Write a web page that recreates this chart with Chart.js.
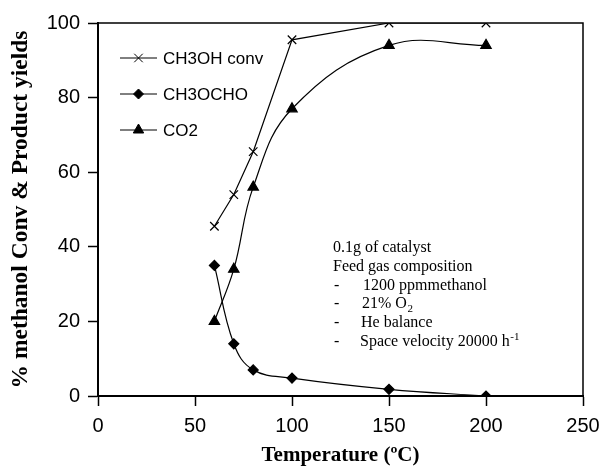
<!DOCTYPE html>
<html>
<head>
<meta charset="utf-8">
<script src="https://cdn.jsdelivr.net/npm/chart.js@4.4.0/dist/chart.umd.min.js"></script>
<style>
  html, body { margin: 0; padding: 0; background: #fff; }
  #wrap { width: 609px; height: 470px; }
</style>
</head>
<body>
<div id="wrap"><canvas id="chart" width="609" height="470"></canvas></div>
<script>
// temperatures (oC)
const TEMPS = [60, 70, 80, 100, 150, 200];
const CONV = [45.5, 54, 65.5, 95.5, 100, 100];
const CH3OCHO = [35, 14, 7, 4.8, 1.8, 0];
const CO2 = [20, 34, 56, 77, 94, 94];

const X_TICKS = [0, 50, 100, 150, 200, 250];
const Y_TICKS = [0, 20, 40, 60, 80, 100];

const NOTE_LINES = [
    ['', '0.1g of catalyst'],
    ['', 'Feed gas composition'],
    ['-', '1200 ppmmethanol'],
    ['-', '21% O', '2'],
    ['-', 'He balance'],
    ['-', 'Space velocity 20000 h', '-1']
];

function pts(ys) {
    return TEMPS.map((t, i) => ({ x: t, y: ys[i] }));
}

const boxAndNotes = {
    id: 'boxAndNotes',
    afterDraw(chart) {
        const ctx = chart.ctx;
        const a = chart.chartArea;
        ctx.save();
        ctx.strokeStyle = '#000';
        ctx.lineWidth = 1.5;
        ctx.beginPath();
        ctx.moveTo(a.left, a.top);
        ctx.lineTo(a.right, a.top);
        ctx.lineTo(a.right, a.bottom);
        ctx.stroke();

        // legend
        const legend = [
            ['CH3OH conv', 'crossRot', 6],
            ['CH3OCHO', 'rectRot', 5],
            ['CO2', 'triangle', 6]
        ];
        ctx.font = '17px "Liberation Sans", Arial, sans-serif';
        ctx.textBaseline = 'middle';
        ctx.fillStyle = '#000';
        legend.forEach((item, i) => {
            const y = 58 + i * 36;
            ctx.lineWidth = 1;
            ctx.beginPath();
            ctx.moveTo(120, y);
            ctx.lineTo(157, y);
            ctx.stroke();
            Chart.helpers.drawPoint(ctx, { pointStyle: item[1], radius: item[2], borderWidth: 1.2 }, 138.5, y);
            ctx.fillText(item[0], 163, y + 1);
        });

        // conditions note
        const serif = '"Liberation Serif", "Times New Roman", serif';
        const indents = [333, 333, 363, 362, 361, 360];
        ctx.textBaseline = 'alphabetic';
        NOTE_LINES.forEach((ln, i) => {
            const y = 252 + i * 18.8;
            ctx.font = '16px ' + serif;
            if (ln[0]) {
                ctx.fillText(ln[0], 334, y);
            }
            const x = indents[i];
            ctx.fillText(ln[1], x, y);
            if (ln[2]) {
                const w = ctx.measureText(ln[1]).width;
                ctx.font = '11px ' + serif;
                const dy = ln[2] === '2' ? 4 : -6;
                ctx.fillText(ln[2], x + w + 0.5, y + dy);
            }
        });
        ctx.restore();
    }
};

new Chart(document.getElementById('chart'), {
    type: 'line',
    data: {
        datasets: [{
            label: 'CH3OH conv',
            data: pts(CONV),
            borderColor: '#000',
            borderWidth: 1.2,
            tension: 0,
            pointStyle: 'crossRot',
            pointRadius: 6,
            pointBorderWidth: 1.2,
            pointBorderColor: '#000',
            pointBackgroundColor: '#000'
        }, {
            label: 'CH3OCHO',
            data: pts(CH3OCHO),
            borderColor: '#000',
            borderWidth: 1.2,
            tension: 0.4,
            pointStyle: 'rectRot',
            pointRadius: 5,
            pointBorderColor: '#000',
            pointBackgroundColor: '#000'
        }, {
            label: 'CO2',
            data: pts(CO2),
            borderColor: '#000',
            borderWidth: 1.2,
            tension: 0.4,
            pointStyle: 'triangle',
            pointRadius: 6,
            pointBorderColor: '#000',
            pointBackgroundColor: '#000'
        }]
    },
    options: {
        responsive: false,
        animation: false,
        events: [],
        layout: { padding: { top: 23, right: 26, left: 0, bottom: 0 } },
        plugins: { legend: { display: false }, tooltip: { enabled: false } },
        scales: {
            x: {
                type: 'linear',
                min: 0,
                max: 250,
                afterBuildTicks: s => { s.ticks = X_TICKS.map(v => ({ value: v })); },
                afterFit: s => { s.height = 74; },
                grid: { drawOnChartArea: false, drawTicks: true, tickLength: 10, tickWidth: 1.5, color: '#000' },
                border: { display: true, color: '#000', width: 2 },
                ticks: {
                    color: '#000',
                    padding: 8,
                    maxRotation: 0,
                    font: { family: '"Liberation Sans", Arial, sans-serif', size: 20 }
                },
                title: {
                    display: true,
                    text: 'Temperature (\u00BAC)',
                    color: '#000',
                    padding: { top: 0, bottom: 2 },
                    font: { family: '"Liberation Serif", "Times New Roman", serif', size: 21, weight: 'bold' }
                }
            },
            y: {
                min: 0,
                max: 100,
                afterBuildTicks: s => { s.ticks = Y_TICKS.map(v => ({ value: v })); },
                afterFit: s => { s.width = 98; },
                grid: { drawOnChartArea: false, drawTicks: true, tickLength: 10, tickWidth: 1.5, color: '#000' },
                border: { display: true, color: '#000', width: 2 },
                ticks: {
                    color: '#000',
                    padding: 8,
                    font: { family: '"Liberation Sans", Arial, sans-serif', size: 20 }
                },
                title: {
                    display: true,
                    text: '% methanol Conv & Product yields',
                    color: '#000',
                    padding: { top: 7, bottom: 0 },
                    font: { family: '"Liberation Serif", "Times New Roman", serif', size: 23.5, weight: 'bold' }
                }
            }
        }
    },
    plugins: [boxAndNotes]
});
</script>
</body>
</html>
